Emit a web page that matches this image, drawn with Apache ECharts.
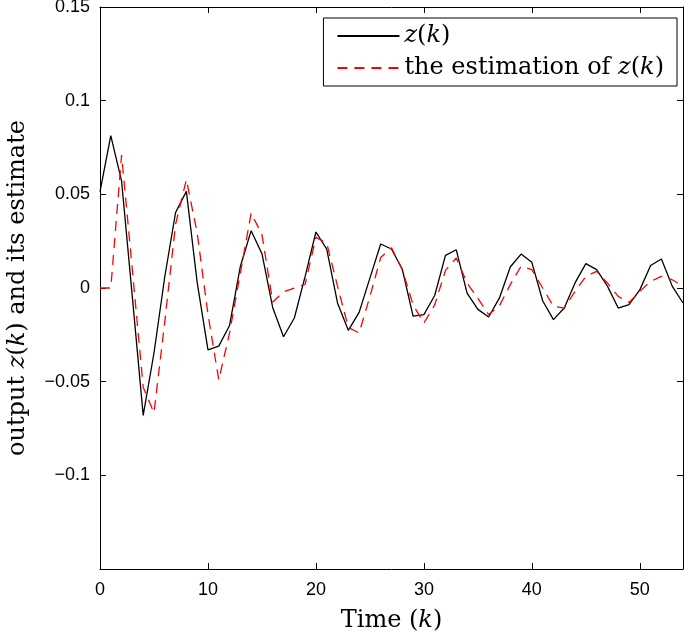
<!DOCTYPE html>
<html>
<head>
<meta charset="utf-8">
<script src="https://cdn.jsdelivr.net/npm/echarts@6/dist/echarts.min.js"></script>
<style>
  html, body { margin: 0; padding: 0; background: #fff; }
  #chart { width: 685px; height: 635px; }
</style>
</head>
<body>
<div id="chart"></div>
<script>
// time steps k = 0..54
var steps = [];
for (var i = 0; i <= 54; i++) steps.push(i);

// output z(k)
var zOut = [
  0.0515, 0.0813, 0.057, -0.005, -0.068, -0.0347, 0.006, 0.0403, 0.0516, 0.003,
  -0.033, -0.031, -0.020, 0.0115, 0.0306, 0.0183, -0.0105, -0.026, -0.016, 0.0062,
  0.0299, 0.0208, -0.008, -0.0226, -0.013, 0.0053, 0.0235, 0.0208, 0.010, -0.015,
  -0.0142, -0.004, 0.0174, 0.0204, -0.0027, -0.0114, -0.0155, -0.0053, 0.0112, 0.0181,
  0.0137, -0.0068, -0.0169, -0.0107, 0.0027, 0.013, 0.0098, 0.001, -0.0107, -0.0089,
  -0.001, 0.012, 0.0155, 0.001, -0.008
];

// the estimation of z(k)
var zEst = [
  0, 0, 0.071, 0.0094, -0.053, -0.0666, -0.018, 0.034, 0.0578, 0.0295,
  -0.014, -0.049, -0.024, 0.008, 0.040, 0.0285, -0.0075, -0.002, 0.0, 0.002,
  0.027, 0.024, 0.001, -0.021, -0.024, -0.0045, 0.0163, 0.0215, 0.0098, -0.009,
  -0.0187, -0.009, 0.0094, 0.016, 0.0027, -0.0055, -0.0142, -0.0094, 0.0018, 0.0116,
  0.0098, 0.0, -0.0098, -0.0107, -0.0018, 0.0062, 0.0089, 0.0027, -0.0045, -0.0077,
  -0.0018, 0.0035, 0.0062, 0.0044, 0.001
];

function pairs(vals) {
  return steps.map(function (k, i) { return [k, vals[i]]; });
}

var serif = '"DejaVu Serif", "Liberation Serif", serif';
var sans = '"Liberation Sans", Arial, sans-serif';
var nameSize = 24;
var italic = { fontStyle: 'italic', fontFamily: serif, fontSize: nameSize, color: '#000' };
var upright = { fontFamily: serif, fontSize: nameSize, color: '#000' };

function tickLabel(v) {
  if (Math.abs(v) < 1e-9) return '0';
  if (Math.abs(v + 0.15) < 1e-9) return '';
  var s = String(Math.round(v * 100) / 100);
  return s.replace('-', '\u2212');
}

var chart = echarts.init(document.getElementById('chart'));

var frame = {
  axisLine: { onZero: false, lineStyle: { color: '#000', width: 1 } },
  axisTick: { inside: true, length: 6, lineStyle: { color: '#000' } },
  splitLine: { show: false }
};

var option = {
  animation: false,
  backgroundColor: '#fff',
  grid: { left: 100, right: 2, top: 7, bottom: 66, outerBoundsMode: 'none', containLabel: false },
  legend: {
    orient: 'vertical',
    right: 8,
    top: 18,
    padding: [6, 13, 6, 13],
    itemGap: 8,
    itemWidth: 62,
    itemHeight: 14,
    backgroundColor: '#fff',
    borderColor: '#000',
    borderWidth: 1,
    borderRadius: 0,
    itemStyle: { opacity: 0 },
    textStyle: {
      fontFamily: serif,
      fontSize: nameSize,
      color: '#000',
      rich: { i: italic, n: upright }
    },
    formatter: function (name) {
      return name === 'z' ? '{i|z}{n|(}{i|k}{n|)}' : '{n|the estimation of }{i|z}{n|(}{i|k}{n|)}';
    },
    data: ['z', 'est']
  },
  xAxis: [
    Object.assign({
      type: 'value', min: 0, max: 54, interval: 10,
      name: '{n|Time (}{i|k}{n|)}', nameLocation: 'middle', nameGap: 40,
      nameTextStyle: { rich: { i: italic, n: upright } },
      axisLabel: { fontFamily: sans, fontSize: 18, color: '#000', margin: 12, showMaxLabel: false }
    }, frame),
    Object.assign({
      type: 'value', min: 0, max: 54, interval: 10, position: 'top',
      axisLabel: { show: false }
    }, frame)
  ],
  yAxis: [
    Object.assign({
      type: 'value', min: -0.15, max: 0.15, interval: 0.05,
      name: '{n|output }{i|z}{n|(}{i|k}{n|) and its estimate}', nameLocation: 'middle', nameGap: 70,
      nameTextStyle: { rich: { i: italic, n: upright } },
      axisLabel: { fontFamily: sans, fontSize: 18, color: '#000', margin: 10, formatter: tickLabel }
    }, frame),
    Object.assign({
      type: 'value', min: -0.15, max: 0.15, interval: 0.05, position: 'right',
      axisLabel: { show: false }
    }, frame)
  ],
  series: [
    {
      name: 'z', type: 'line', data: pairs(zOut), symbol: 'none', z: 3,
      lineStyle: { color: '#000', width: 1.3 }, itemStyle: { color: '#000' }
    },
    {
      name: 'est', type: 'line', data: pairs(zEst), symbol: 'none', z: 4,
      lineStyle: { color: '#ff0000', width: 1.3, type: [10, 7] }, itemStyle: { color: '#ff0000' }
    }
  ]
};

chart.setOption(option);
</script>
</body>
</html>
